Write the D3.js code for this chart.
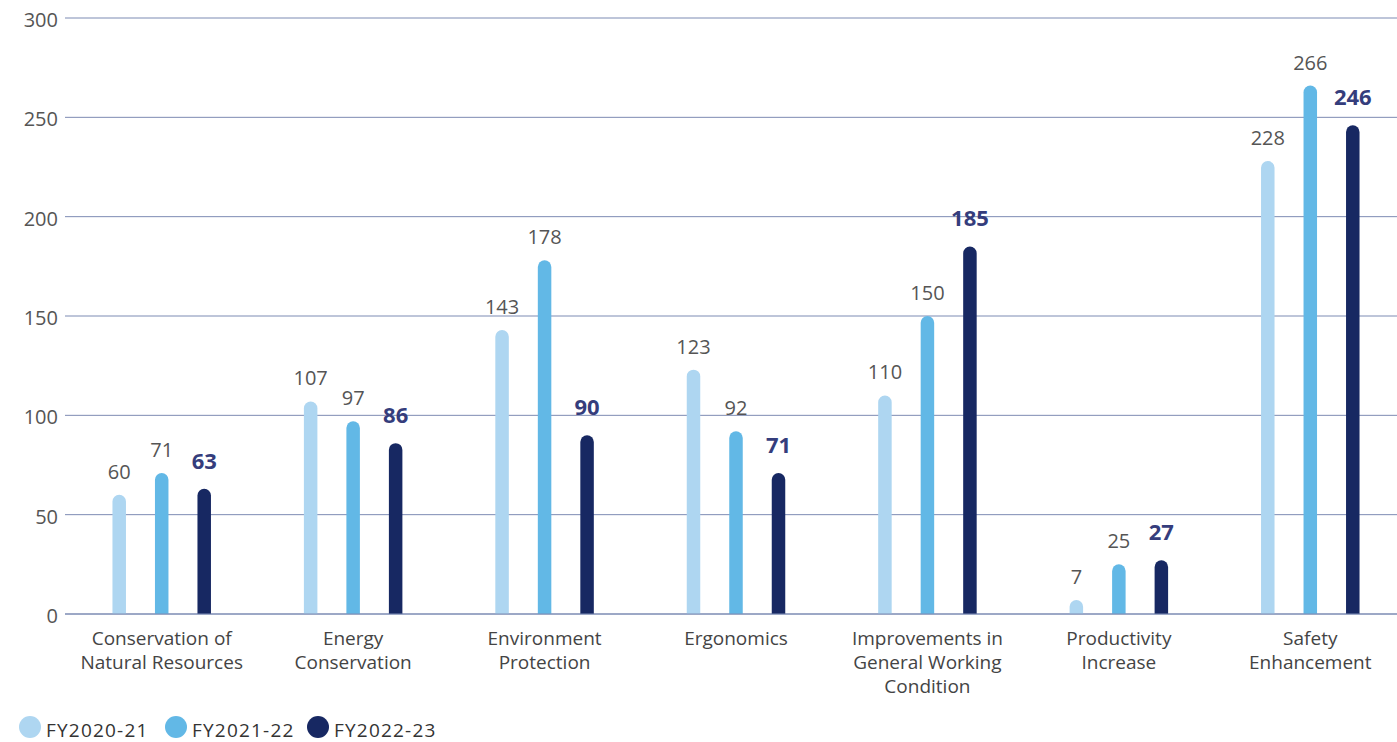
<!DOCTYPE html>
<html><head><meta charset="utf-8">
<script src="https://cdn.jsdelivr.net/npm/d3@7"></script>
<style>body{margin:0;background:#fff;font-family:"Open Sans",sans-serif;}</style>
</head><body><svg id="c" width="1397" height="742"></svg>
<script>
const categories = [["Conservation of","Natural Resources"],["Energy","Conservation"],["Environment","Protection"],["Ergonomics"],["Improvements in","General Working","Condition"],["Productivity","Increase"],["Safety","Enhancement"]];
const seriesNames = ["FY2020-21","FY2021-22","FY2022-23"];
const fy2021 = [60,107,143,123,110,7,228];
const fy2122 = [71,97,178,92,150,25,266];
const fy2223 = [63,86,90,71,185,27,246];
const yTicks = [0,50,100,150,200,250,300];
const colors = ["#aed6f1","#62b8e6","#172862"];
const series = [fy2021, fy2122, fy2223];

const svg = d3.select("#c");
const y = d3.scaleLinear().domain([0,300]).range([614,18]);
const x0 = d3.scaleBand().domain(d3.range(categories.length)).range([66,1406]);
const x1 = d3.scaleBand().domain(d3.range(3)).range([-63.75,63.75]);
const bw = 13.5;

// gridlines
svg.append("g").selectAll("line").data(yTicks).join("line")
  .attr("x1",65).attr("x2",1397).attr("y1",d=>y(d)).attr("y2",d=>y(d))
  .attr("stroke","#7d8bb3").attr("stroke-width",1);
svg.append("g").selectAll("text").data(yTicks).join("text")
  .attr("x",58).attr("y",d=>y(d)+9).attr("text-anchor","end")
  .attr("font-size",20).attr("fill","#555").text(d=>d);

// bars
categories.forEach((c,i)=>{
  const cx = x0(i)+x0.bandwidth()/2;
  series.forEach((s,j)=>{
    const v = s[i];
    const bx = cx + x1(j)+x1.bandwidth()/2;
    const top = y(v), bot = y(0), r = bw/2;
    const p = `M${bx-r},${bot} L${bx-r},${top+r} A${r},${r} 0 0 1 ${bx+r},${top+r} L${bx+r},${bot} Z`;
    svg.append("path").attr("d",p).attr("fill",colors[j]);
    const bold = j===2;
    svg.append("text").attr("x",bx).attr("y",top-(bold?20:16))
      .attr("text-anchor","middle").attr("font-size",bold?22:20)
      .attr("font-weight",bold?700:400).attr("fill",bold?"#353d7c":"#555").text(v);
  });
  const t = svg.append("text").attr("text-anchor","middle").attr("font-size",19).attr("fill","#444");
  c.forEach((line,k)=>t.append("tspan").attr("x",cx).attr("y",645+k*24).text(line));
});
// axis baseline
svg.append("line").attr("x1",65).attr("x2",1397).attr("y1",y(0)).attr("y2",y(0)).attr("stroke","#7d8bb3").attr("stroke-width",1.2);

// legend
const lx = [30,176,318];
seriesNames.forEach((n,j)=>{
  svg.append("circle").attr("cx",lx[j]).attr("cy",727).attr("r",11).attr("fill",colors[j]);
  svg.append("text").attr("x",lx[j]+16).attr("y",737).attr("font-size",19).attr("letter-spacing",1.2).attr("fill","#333").text(n);
});
</script></body></html>
